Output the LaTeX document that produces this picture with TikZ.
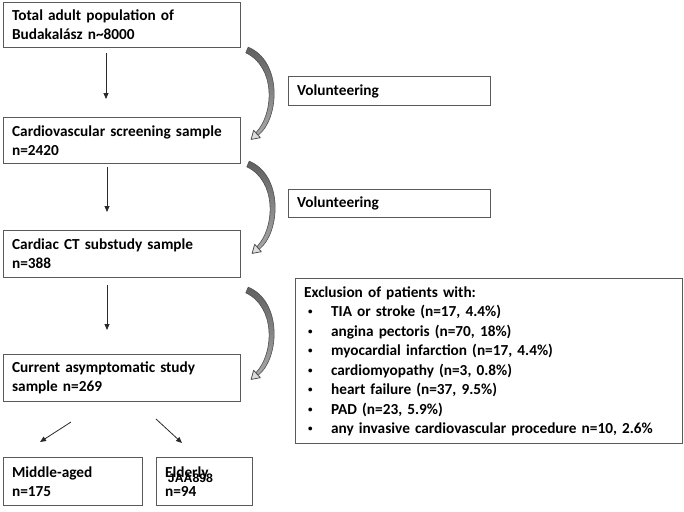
\documentclass[tikz,border=0pt]{standalone}
\usepackage{fontspec}
\setmainfont{Carlito}
\newfontfamily\arialfont{Liberation Sans}
\usetikzlibrary{arrows.meta}
\definecolor{boxline}{HTML}{5A5A5A}
\definecolor{bandedge}{HTML}{505050}
\definecolor{bandtop}{HTML}{606060}
\definecolor{bandbot}{HTML}{A8A8A8}
\definecolor{headfill}{HTML}{DDDDDD}
\definecolor{arrline}{HTML}{2A2A2A}
\newcommand{\bul}{\hspace*{4pt}\makebox[23pt][l]{\raisebox{2pt}{\fontsize{9}{9}\selectfont •}}}
\tikzset{
  box/.style={draw=boxline, line width=1.2pt, inner xsep=8.5pt, inner ysep=0pt,
    anchor=north west, align=left,
    font=\fontsize{15.3}{19}\bfseries\selectfont},
  arr/.style={draw=arrline, line width=0.8pt, -{Triangle[length=6pt,width=5pt]}},
  bendarrow/.pic={
    \shadedraw[draw=bandedge, line width=0.6pt, top color=bandtop, bottom color=bandbot]
      (1.2,-2.8) .. controls (35,11) and (33,68) .. (11.1,85.3)
      -- (8.9,82.7) .. controls (27,64) and (29,17) .. (-1.2,2.8) -- cycle;
    \filldraw[fill=headfill, draw=bandedge, line width=0.8pt, line join=round]
      (4.1,89.4) -- (13.35,87.7) -- (6.65,80.3) -- cycle;
  }
}
\begin{document}
\begin{tikzpicture}[x=1pt,y=-1pt]
\useasboundingbox[fill=white] (0,0) rectangle (684,511);

% main column
\node[box, text width=220pt, minimum height=45pt] (b1) at (3,2)
  {Total adult population of\\Budakalász n\textasciitilde 8000};
\node[box, text width=220pt, minimum height=46pt] (b2) at (3,117)
  {Cardiovascular screening sample\\n=2420};
\node[box, text width=220pt, minimum height=47pt] (b3) at (3,230)
  {Cardiac CT substudy sample\\n=388};
\node[box, text width=220pt, minimum height=47pt] (b4) at (3,354)
  {Current asymptomatic study\\sample n=269};
\node[box, text width=122pt, minimum height=48pt] (b5) at (3,457)
  {Middle-aged\\n=175};
\node[box, text width=79pt, minimum height=48pt] (b6) at (156,457)
  {Elderly\\n=94};

% side boxes
\node[box, text width=185pt, minimum height=29pt] (v1) at (288,76) {Volunteering};
\node[box, text width=185pt, minimum height=28pt] (v2) at (288,189) {Volunteering};
\node[box, text width=370pt, minimum height=165pt,
      font=\fontsize{15.3}{19.5}\bfseries\selectfont] (ex) at (295,278)
  {Exclusion of patients with:\\
   \bul TIA or stroke (n=17, 4.4\%)\\
   \bul angina pectoris (n=70, 18\%)\\
   \bul myocardial infarction (n=17, 4.4\%)\\
   \bul cardiomyopathy (n=3, 0.8\%)\\
   \bul heart failure (n=37, 9.5\%)\\
   \bul PAD (n=23, 5.9\%)\\
   \bul any invasive cardiovascular procedure n=10, 2.6\%};

% straight arrows
\coordinate (a1s) at (106,53);  \coordinate (a1e) at (106,99);
\coordinate (a2s) at (107,167); \coordinate (a2e) at (107,212);
\coordinate (a3s) at (107,285); \coordinate (a3e) at (107,330);
\coordinate (a4s) at (71,422);  \coordinate (a4e) at (40,442);
\coordinate (a5s) at (156,419); \coordinate (a5e) at (182,443);
\draw[arr] (a1s) -- (a1e);
\draw[arr] (a2s) -- (a2e);
\draw[arr] (a3s) -- (a3e);
\draw[arr] (a4s) -- (a4e);
\draw[arr] (a5s) -- (a5e);

% curved block arrows
\pic at (247,50) {bendarrow};
\pic at (248,164) {bendarrow};
\pic at (247,290) {bendarrow};

% overlay label
\node[inner sep=0pt, font=\arialfont\bfseries\fontsize{12.3}{14}\selectfont] (wm) at (190.5,478) {JAA898};
\end{tikzpicture}
\end{document}
